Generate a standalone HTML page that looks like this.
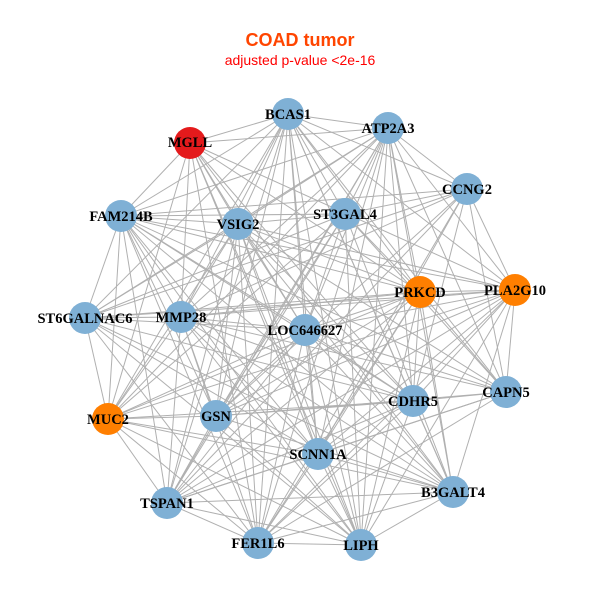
<!DOCTYPE html>
<html><head><meta charset="utf-8"><style>
body{margin:0;background:#fff;width:600px;height:600px;overflow:hidden}
svg text{font-family:"Liberation Serif",serif;font-weight:bold;font-size:14.5px;text-anchor:middle;dominant-baseline:central;fill:#000}
</style></head><body>
<svg id="s" width="600" height="600" xmlns="http://www.w3.org/2000/svg">
<text x="300" y="40" style="font-family:'Liberation Sans',sans-serif;font-size:18px;fill:#ff4500;">COAD tumor</text>
<text x="300" y="60" style="font-family:'Liberation Sans',sans-serif;font-weight:normal;font-size:14px;fill:#ff0000;">adjusted p-value &lt;2e-16</text>
<g id="e" stroke="#b0b0b0" stroke-width="1"></g>
<g id="n"></g>
<g id="t">
<text x="190" y="143">MGLL</text>
<text x="288" y="115">BCAS1</text>
<text x="388" y="129">ATP2A3</text>
<text x="467" y="190">CCNG2</text>
<text x="121" y="217">FAM214B</text>
<text x="238" y="225">VSIG2</text>
<text x="345" y="215">ST3GAL4</text>
<text x="515" y="291">PLA2G10</text>
<text x="420" y="293">PRKCD</text>
<text x="85" y="319">ST6GALNAC6</text>
<text x="181" y="318">MMP28</text>
<text x="305" y="331">LOC646627</text>
<text x="506" y="393">CAPN5</text>
<text x="413" y="402">CDHR5</text>
<text x="108" y="420">MUC2</text>
<text x="216" y="417">GSN</text>
<text x="318" y="455">SCNN1A</text>
<text x="453" y="493">B3GALT4</text>
<text x="167" y="504">TSPAN1</text>
<text x="258" y="544">FER1L6</text>
<text x="361" y="546">LIPH</text>
</g>
</svg>
<script>
var N=[[190,143,'#e41a1c'],[288,114],[388,128],[467,189],[121,216],[238,224],[345,214],[515,290,'#ff7f00'],[420,292,'#ff7f00'],[85,318],[181,317],[305,330],[506,392],[413,401],[108,419,'#ff7f00'],[216,416],[318,454],[453,492],[167,503],[258,543],[361,545]];
var ns='http://www.w3.org/2000/svg',e=document.getElementById('e'),g=document.getElementById('n');
for(var i=0;i<N.length;i++)for(var j=i+1;j<N.length;j++){if((i*7+j*3)%9==0)continue;var l=document.createElementNS(ns,'line');l.setAttribute('x1',N[i][0]);l.setAttribute('y1',N[i][1]);l.setAttribute('x2',N[j][0]);l.setAttribute('y2',N[j][1]);e.appendChild(l);}
N.forEach(function(p){var c=document.createElementNS(ns,'circle');c.setAttribute('cx',p[0]);c.setAttribute('cy',p[1]);c.setAttribute('r',16);c.setAttribute('fill',p[2]||'#7fb0d5');g.appendChild(c);});
</script>
</body></html>
